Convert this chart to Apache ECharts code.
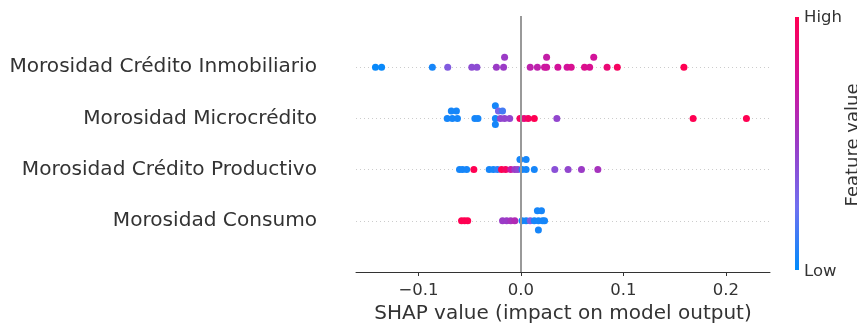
<!DOCTYPE html>
<html>
<head>
<meta charset="utf-8">
<script src="https://cdn.jsdelivr.net/npm/echarts@6/dist/echarts.min.js"></script>
<style>
html,body{margin:0;padding:0;background:#fff;}
#chart{width:857px;height:326px;}
</style>
</head>
<body>
<div id="chart"></div>
<script>
// features, top to bottom
var categories = ['Morosidad Crédito Inmobiliario', 'Morosidad Microcrédito', 'Morosidad Crédito Productivo', 'Morosidad Consumo'];
var xTicks = [-0.1, 0, 0.1, 0.2];

// [shap value, feature value 0..1, swarm level]
var inmobiliario = [
    [-0.142,0.02,0],[-0.136,0.02,0],[-0.0865,0.05,0],[-0.0715,0.35,0],[-0.048,0.42,0],[-0.043,0.42,0],
    [-0.024,0.5,0],[-0.017,0.5,0],[-0.016,0.5,1.5],[0.009,0.65,0],[0.016,0.65,0],[0.023,0.72,0],
    [0.025,0.72,0],[0.025,0.68,1.5],[0.036,0.75,0],[0.045,0.75,0],[0.049,0.78,0],[0.062,0.8,0],
    [0.067,0.78,0],[0.071,0.75,1.5],[0.084,0.88,0],[0.094,0.95,0],[0.159,1,0]
];
var microcredito = [
    [-0.072,0.05,0],[-0.067,0.05,0],[-0.062,0.05,0],[-0.068,0.05,1.1],[-0.063,0.05,1.1],[-0.045,0.05,0],
    [-0.042,0.05,0],[-0.025,0.05,1.9],[-0.025,0.05,0],[-0.025,0.05,-0.9],[-0.022,0.3,1.1],[-0.018,0.15,1.1],
    [-0.020,0.45,0],[-0.016,0.45,0],[-0.011,0.45,0],[-0.001,0.95,0],[0.003,0.85,0],[0.007,0.95,0],
    [0.013,1,0],[0.035,0.45,0],[0.168,1,0],[0.22,1,0]
];
var productivo = [
    [-0.060,0.05,0],[-0.057,0.05,0],[-0.053,0.05,0],[-0.046,1,0],[-0.031,0.05,0],[-0.027,0.05,0],
    [-0.023,0.1,0],[-0.019,1,0],[-0.015,0.95,0],[-0.010,0.7,0],[-0.006,0.5,0],[-0.003,0.45,0],
    [0.001,0.05,0],[0.005,0.05,0],[-0.001,0.05,1.5],[0.005,0.05,1.5],[0.013,0.05,0],[0.033,0.4,0],
    [0.046,0.45,0],[0.059,0.5,0],[0.075,0.55,0]
];
var consumo = [
    [-0.058,1,0],[-0.055,1,0],[-0.052,1,0],[-0.018,0.5,0],[-0.014,0.5,0],[-0.010,0.55,0],
    [-0.006,0.6,0],[0.001,0.05,0],[0.005,0.05,0],[0.009,0.35,0],[0.013,0.05,0],[0.017,0.05,0],
    [0.021,0.05,0],[0.023,0.05,0],[0.016,0.05,1.5],[0.020,0.05,1.5],[0.017,0.05,-1.4]
];
var rows = [inmobiliario, microcredito, productivo, consumo];

var colors = ['#008bfb', '#7070f0', '#9b3bc6', '#d3129a', '#ff0052'];
var font = 'DejaVu Sans';
var step = 0.13;

var chart = echarts.init(document.getElementById('chart'));

var n = categories.length;
var points = [];
rows.forEach(function(row, i) {
    var idx = n - 1 - i;
    row.forEach(function(p) {
        points.push([p[0], idx + p[2] * step, p[1]]);
    });
});
var rowLines = categories.map(function(c, i) { return {yAxis: n - 1 - i}; });

var option = {
    animation: false,
    grid: {left: 356, right: 87, top: 16, bottom: 54, outerBoundsMode: 'none', containLabel: false},
    xAxis: {
        type: 'value',
        min: -0.161,
        max: 0.243,
        name: 'SHAP value (impact on model output)',
        nameLocation: 'middle',
        nameGap: 32,
        nameTextStyle: {fontFamily: font, fontSize: 20, color: '#333'},
        axisLine: {onZero: false, lineStyle: {color: '#333', width: 1}},
        axisTick: {show: true, length: 4, customValues: xTicks, lineStyle: {color: '#333'}},
        axisLabel: {
            customValues: xTicks,
            margin: 10,
            fontFamily: font,
            fontSize: 16.5,
            color: '#333',
            formatter: function(v) { return (v < 0 ? '\u2212' : '') + Math.abs(v).toFixed(1); }
        },
        splitLine: {show: false}
    },
    yAxis: {
        type: 'value',
        min: -1,
        max: 4,
        axisLine: {show: false},
        axisTick: {show: false},
        splitLine: {show: false},
        axisLabel: {
            customValues: [0, 1, 2, 3],
            margin: 39,
            padding: [3, 0, 0, 0],
            fontFamily: font,
            fontSize: 20.1,
            color: '#333',
            formatter: function(v) { return categories[n - 1 - v]; }
        }
    },
    visualMap: {
        show: false,
        type: 'continuous',
        min: 0,
        max: 1,
        dimension: 2,
        seriesIndex: 0,
        inRange: {color: colors}
    },
    series: [{
        type: 'scatter',
        data: points,
        symbolSize: 7,
        itemStyle: {opacity: 1},
        z: 3
    }, {
        type: 'scatter',
        data: [],
        silent: true,
        markLine: {
            z: 1,
            silent: true,
            symbol: 'none',
            label: {show: false},
            lineStyle: {color: '#cccccc', type: [1, 3], width: 1},
            data: rowLines
        }
    }, {
        type: 'scatter',
        data: [],
        silent: true,
        markLine: {
            z: 10,
            silent: true,
            symbol: 'none',
            label: {show: false},
            lineStyle: {color: '#999999', type: 'solid', width: 2},
            data: [{xAxis: 0}]
        }
    }],
    graphic: [{
        type: 'rect',
        shape: {x: 795, y: 17, width: 4, height: 253},
        style: {
            fill: new echarts.graphic.LinearGradient(0, 1, 0, 0, colors.map(function(c, i) {
                return {offset: i / (colors.length - 1), color: c};
            }))
        }
    }, {
        type: 'text',
        x: 804, y: 18,
        style: {text: 'High', font: '16.5px "DejaVu Sans"', fill: '#333', verticalAlign: 'middle'}
    }, {
        type: 'text',
        x: 804, y: 272,
        style: {text: 'Low', font: '16.5px "DejaVu Sans"', fill: '#333', verticalAlign: 'middle'}
    }, {
        type: 'text',
        x: 853, y: 145,
        rotation: Math.PI / 2,
        style: {text: 'Feature value', font: '18px "DejaVu Sans"', fill: '#333', align: 'center', verticalAlign: 'middle'}
    }]
};
chart.setOption(option);
</script>
</body>
</html>
